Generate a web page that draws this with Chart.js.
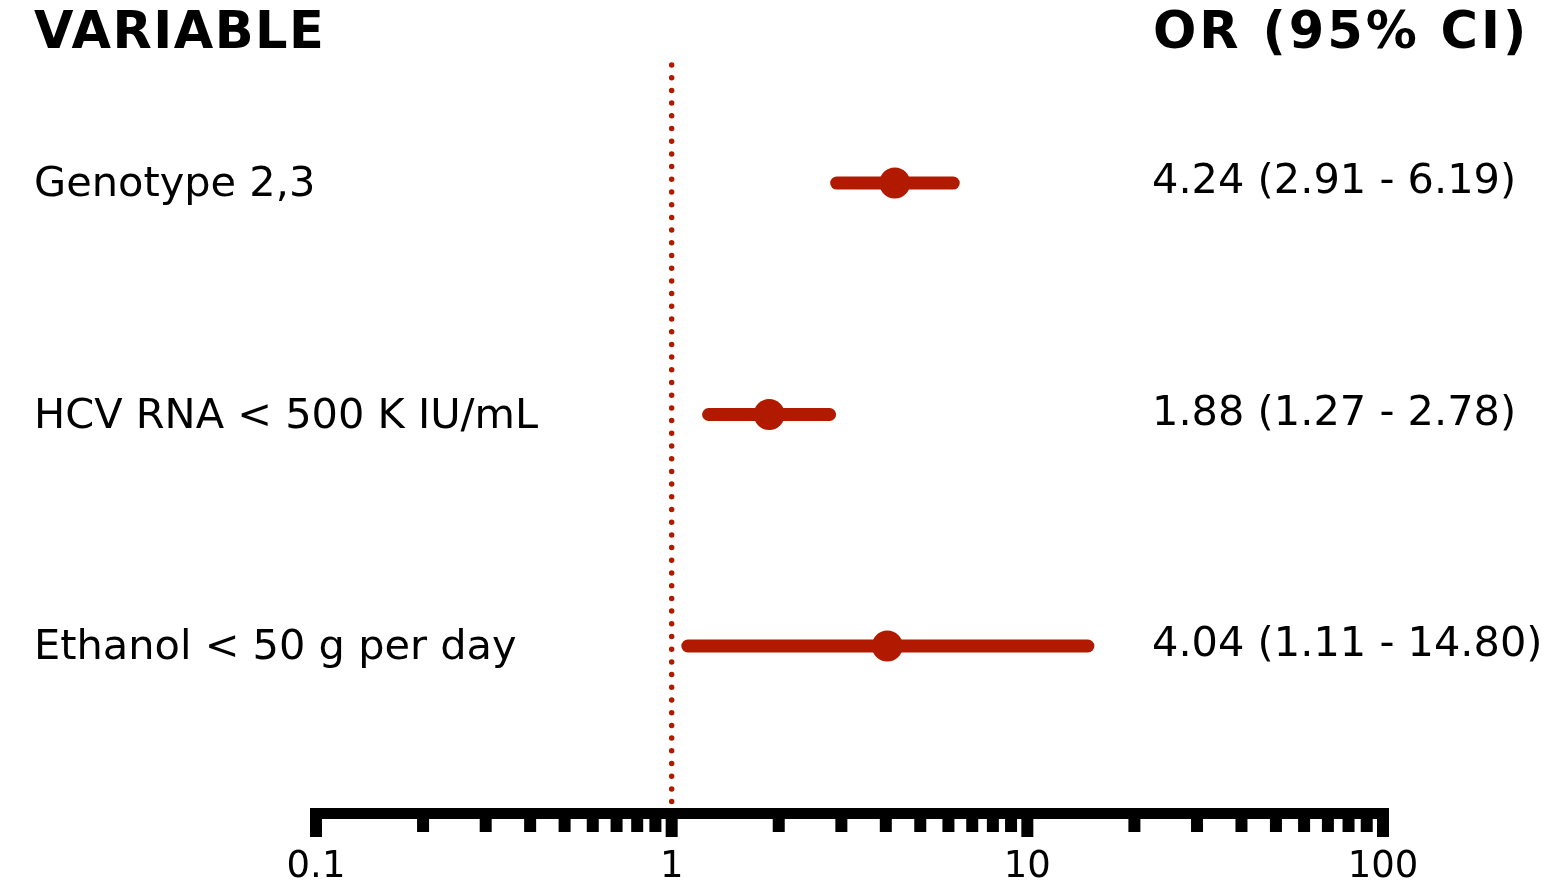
<!DOCTYPE html>
<html>
<head>
<meta charset="utf-8">
<script src="https://cdn.jsdelivr.net/npm/chart.js@4/dist/chart.umd.min.js"></script>
<style>
  body { margin: 0; background: #fff; }
  canvas { display: block; }
</style>
</head>
<body>
<canvas id="myChart" width="1545" height="883"></canvas>
<script>
// forest plot data
var variables = ['Genotype 2,3', 'HCV RNA < 500 K IU/mL', 'Ethanol < 50 g per day'];
var oddsRatio = [4.24, 1.88, 4.04];
var ciLow = [2.91, 1.27, 1.11];
var ciHigh = [6.19, 2.78, 14.80];
var orLabels = ['4.24 (2.91 - 6.19)', '1.88 (1.27 - 2.78)', '4.04 (1.11 - 14.80)'];
var majorTicks = [0.1, 1, 10, 100];
var tickLabels = ['0.1', '1', '10', '100'];
var refValue = 1;

var red = 'rgb(178,26,0)';
var font = '"DejaVu Sans", Verdana, sans-serif';

var datasets = [];
variables.forEach(function(v, i){
	datasets.push({
		data: [{x: ciLow[i], y: i + 1}, {x: ciHigh[i], y: i + 1}],
		showLine: true,
		borderColor: red,
		borderWidth: 13,
		borderCapStyle: 'round',
		pointRadius: 0
	});
});
datasets.push({
	data: oddsRatio.map(function(o, i){ return {x: o, y: i + 1}; }),
	pointRadius: 15.5,
	pointBackgroundColor: red,
	pointBorderWidth: 0,
	showLine: false
});

var forestPlugin = {
	id: 'forest',
	beforeDatasetsDraw: function(chart){
		var ctx = chart.ctx, x = chart.scales.x, area = chart.chartArea;
		var px = x.getPixelForValue(refValue);
		ctx.save();
		ctx.strokeStyle = red;
		ctx.lineWidth = 5.5;
		ctx.lineCap = 'round';
		ctx.setLineDash([0, 12.7]);
		ctx.beginPath();
		ctx.moveTo(px, area.top);
		ctx.lineTo(px, area.bottom - 6);
		ctx.stroke();
		ctx.restore();
	},
	afterDraw: function(chart){
		var ctx = chart.ctx, x = chart.scales.x, y = chart.scales.y, area = chart.chartArea;
		ctx.save();
		// axis line
		var axisTop = area.bottom;
		var x0 = x.getPixelForValue(majorTicks[0]);
		var x1 = x.getPixelForValue(majorTicks[majorTicks.length - 1]);
		ctx.fillStyle = '#000';
		ctx.fillRect(x0 - 6, axisTop, x1 - x0 + 12, 11);
		// ticks
		for (var d = 0; d < majorTicks.length; d++) {
			var p = x.getPixelForValue(majorTicks[d]);
			ctx.fillRect(p - 6, axisTop, 12, 29);
			if (d < majorTicks.length - 1) {
				for (var m = 2; m <= 9; m++) {
					var pm = x.getPixelForValue(majorTicks[d] * m);
					ctx.fillRect(pm - 6, axisTop, 12, 24);
				}
			}
		}
		ctx.font = '37px ' + font;
		ctx.textAlign = 'center';
		ctx.textBaseline = 'alphabetic';
		majorTicks.forEach(function(t, i){
			ctx.fillText(tickLabels[i], x.getPixelForValue(t), 877);
		});
		// headers
		ctx.textAlign = 'left';
		ctx.font = 'bold 51px ' + font;
		ctx.letterSpacing = '1.5px';
		ctx.fillText('VARIABLE', 34, 48);
		ctx.letterSpacing = '3px';
		ctx.fillText('OR (95% CI)', 1153, 48);
		ctx.letterSpacing = '0px';
		// rows
		ctx.font = '41.5px ' + font;
		variables.forEach(function(v, i){
			var py = y.getPixelForValue(i + 1);
			ctx.fillText(v, 34, py + 13);
			ctx.fillText(orLabels[i], 1152, py + 10);
		});
		ctx.restore();
	}
};

var ctx = document.getElementById('myChart').getContext('2d');
var myChart = new Chart(ctx, {
	type: 'scatter',
	data: { datasets: datasets },
	options: {
		responsive: false,
		animation: false,
		layout: { padding: { left: 316, right: 162, top: 65, bottom: 75 } },
		plugins: { legend: { display: false }, tooltip: { enabled: false } },
		scales: {
			x: { type: 'logarithmic', min: 0.1, max: 100, display: false },
			y: { type: 'linear', min: 0.49, max: 3.70, reverse: true, display: false }
		}
	},
	plugins: [forestPlugin]
});
</script>
</body>
</html>
